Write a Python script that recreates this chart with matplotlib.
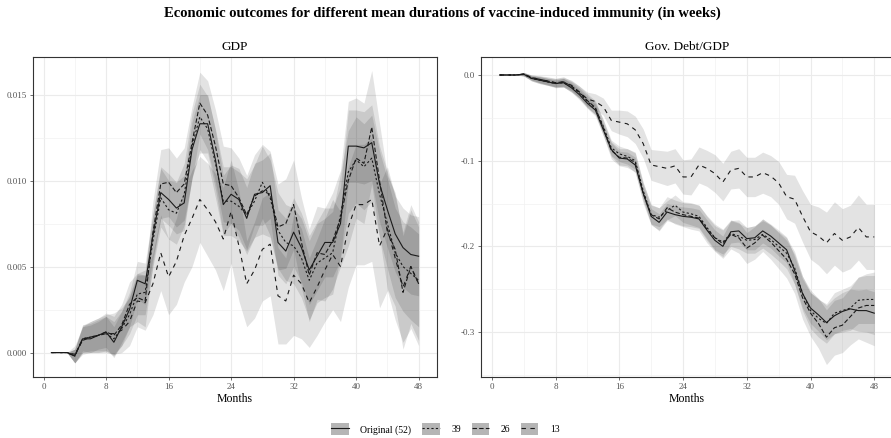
import matplotlib
matplotlib.use("Agg")
import matplotlib.pyplot as plt
from matplotlib.lines import Line2D
from matplotlib.patches import Patch
from matplotlib.ticker import MultipleLocator

plt.rcParams["font.family"] = ["Liberation Serif", "DejaVu Serif"]

months = list(range(1, 49))
labels = ["Original (52)", "39", "26", "13"]

# GDP: mean paths and bands for each mean immunity duration
gdp_orig = [0, 0, 0, -0.0002, 0.0008, 0.0008, 0.0010, 0.0012, 0.0006, 0.0015,
            0.0025, 0.0042, 0.0040, 0.0068, 0.0093, 0.0089, 0.0084, 0.0087, 0.0118, 0.0133,
            0.0133, 0.0112, 0.0086, 0.0092, 0.0089, 0.0078, 0.0092, 0.0093, 0.0097, 0.0064,
            0.0059, 0.0070, 0.0061, 0.0048, 0.0056, 0.0064, 0.0064, 0.0075, 0.0120, 0.0120,
            0.0119, 0.0122, 0.0098, 0.0083, 0.0069, 0.0061, 0.0057, 0.0056]
gdp_orig_lo = [0, 0, 0, -0.0006, 0.0001, 0.0000, 0.0002, 0.0003, -0.0003, 0.0006,
               0.0015, 0.0031, 0.0028, 0.0055, 0.0078, 0.0074, 0.0069, 0.0071, 0.0102, 0.0116,
               0.0116, 0.0095, 0.0069, 0.0075, 0.0071, 0.0060, 0.0074, 0.0074, 0.0078, 0.0045,
               0.0040, 0.0050, 0.0041, 0.0028, 0.0036, 0.0044, 0.0044, 0.0054, 0.0099, 0.0099,
               0.0098, 0.0100, 0.0076, 0.0061, 0.0047, 0.0038, 0.0034, 0.0033]
gdp_orig_hi = [0, 0, 0, 0.0002, 0.0015, 0.0016, 0.0018, 0.0021, 0.0015, 0.0024,
               0.0035, 0.0053, 0.0052, 0.0081, 0.0108, 0.0104, 0.0099, 0.0103, 0.0134, 0.0150,
               0.0150, 0.0129, 0.0103, 0.0109, 0.0107, 0.0096, 0.0110, 0.0112, 0.0116, 0.0083,
               0.0078, 0.0090, 0.0081, 0.0068, 0.0076, 0.0084, 0.0084, 0.0096, 0.0141, 0.0141,
               0.0140, 0.0144, 0.0120, 0.0105, 0.0091, 0.0084, 0.0080, 0.0079]

gdp_39 = [0, 0, 0, -0.0002, 0.0008, 0.0009, 0.0010, 0.0011, 0.0008, 0.0014,
          0.0022, 0.0034, 0.0035, 0.0065, 0.0090, 0.0083, 0.0081, 0.0092, 0.0120, 0.0137,
          0.0130, 0.0110, 0.0088, 0.0088, 0.0085, 0.0080, 0.0088, 0.0099, 0.0090, 0.0071,
          0.0064, 0.0062, 0.0055, 0.0042, 0.0052, 0.0055, 0.0058, 0.0080, 0.0105, 0.0112,
          0.0108, 0.0113, 0.0092, 0.0075, 0.0058, 0.0050, 0.0046, 0.0042]
gdp_39_lo = [0, 0, 0, -0.0006, 0.0000, 0.0001, 0.0001, 0.0001, -0.0002, 0.0004,
             0.0011, 0.0022, 0.0022, 0.0050, 0.0073, 0.0066, 0.0063, 0.0074, 0.0101, 0.0118,
             0.0111, 0.0090, 0.0068, 0.0068, 0.0065, 0.0059, 0.0067, 0.0078, 0.0068, 0.0049,
             0.0042, 0.0040, 0.0032, 0.0019, 0.0029, 0.0032, 0.0034, 0.0056, 0.0081, 0.0087,
             0.0083, 0.0088, 0.0067, 0.0049, 0.0032, 0.0024, 0.0019, 0.0015]
gdp_39_hi = [0, 0, 0, 0.0002, 0.0016, 0.0017, 0.0019, 0.0021, 0.0018, 0.0024,
             0.0033, 0.0046, 0.0048, 0.0080, 0.0107, 0.0100, 0.0099, 0.0110, 0.0139, 0.0156,
             0.0149, 0.0130, 0.0108, 0.0108, 0.0105, 0.0101, 0.0109, 0.0120, 0.0112, 0.0093,
             0.0086, 0.0084, 0.0078, 0.0065, 0.0075, 0.0078, 0.0082, 0.0104, 0.0129, 0.0137,
             0.0133, 0.0138, 0.0117, 0.0101, 0.0084, 0.0076, 0.0073, 0.0069]

gdp_26 = [0, 0, 0, -0.0001, 0.0007, 0.0009, 0.0010, 0.0012, 0.0010, 0.0016,
          0.0028, 0.0032, 0.0030, 0.0070, 0.0098, 0.0099, 0.0093, 0.0098, 0.0122, 0.0145,
          0.0138, 0.0120, 0.0098, 0.0097, 0.0090, 0.0080, 0.0091, 0.0094, 0.0092, 0.0073,
          0.0075, 0.0086, 0.0064, 0.0045, 0.0058, 0.0057, 0.0065, 0.0078, 0.0100, 0.0113,
          0.0110, 0.0131, 0.0100, 0.0070, 0.0060, 0.0035, 0.0050, 0.0040]
gdp_26_lo = [0, 0, 0, -0.0006, -0.0001, 0.0000, 0.0000, 0.0001, -0.0001, 0.0004,
             0.0015, 0.0018, 0.0015, 0.0052, 0.0078, 0.0079, 0.0073, 0.0077, 0.0101, 0.0127,
             0.0118, 0.0099, 0.0076, 0.0075, 0.0067, 0.0057, 0.0067, 0.0069, 0.0067, 0.0048,
             0.0049, 0.0060, 0.0038, 0.0018, 0.0031, 0.0030, 0.0037, 0.0050, 0.0062, 0.0078,
             0.0075, 0.0098, 0.0067, 0.0037, 0.0027, 0.0002, 0.0017, 0.0007]
gdp_26_hi = [0, 0, 0, 0.0004, 0.0015, 0.0018, 0.0020, 0.0023, 0.0021, 0.0028,
             0.0041, 0.0046, 0.0045, 0.0088, 0.0118, 0.0119, 0.0113, 0.0119, 0.0143, 0.0163,
             0.0158, 0.0141, 0.0120, 0.0119, 0.0113, 0.0103, 0.0115, 0.0121, 0.0117, 0.0098,
             0.0101, 0.0112, 0.0090, 0.0072, 0.0085, 0.0084, 0.0093, 0.0106, 0.0146, 0.0148,
             0.0145, 0.0164, 0.0133, 0.0103, 0.0093, 0.0068, 0.0083, 0.0073]

gdp_13 = [0, 0, 0, -0.0002, 0.0008, 0.0009, 0.0010, 0.0011, 0.0011, 0.0013,
          0.0018, 0.0030, 0.0029, 0.0040, 0.0058, 0.0044, 0.0053, 0.0068, 0.0078, 0.0089,
          0.0083, 0.0076, 0.0066, 0.0082, 0.0062, 0.0040, 0.0048, 0.0060, 0.0063, 0.0033,
          0.0030, 0.0045, 0.0040, 0.0029, 0.0038, 0.0048, 0.0057, 0.0050, 0.0073, 0.0086,
          0.0086, 0.0089, 0.0062, 0.0072, 0.0055, 0.0038, 0.0050, 0.0040]
gdp_13_lo = [0, 0, 0, -0.0006, 0.0000, 0.0000, 0.0000, 0.0000, -0.0001, 0.0000,
             0.0004, 0.0015, 0.0013, 0.0022, 0.0036, 0.0022, 0.0028, 0.0041, 0.0050, 0.0064,
             0.0056, 0.0048, 0.0036, 0.0052, 0.0030, 0.0015, 0.0020, 0.0030, 0.0033, 0.0005,
             0.0005, 0.0010, 0.0008, 0.0003, 0.0010, 0.0018, 0.0025, 0.0018, 0.0038, 0.0051,
             0.0051, 0.0053, 0.0026, 0.0036, 0.0019, 0.0006, 0.0014, 0.0004]
gdp_13_hi = [0, 0, 0, 0.0002, 0.0016, 0.0018, 0.0020, 0.0022, 0.0023, 0.0026,
             0.0032, 0.0045, 0.0045, 0.0058, 0.0080, 0.0066, 0.0078, 0.0095, 0.0106, 0.0114,
             0.0110, 0.0104, 0.0096, 0.0112, 0.0094, 0.0065, 0.0076, 0.0090, 0.0093, 0.0061,
             0.0055, 0.0080, 0.0072, 0.0055, 0.0066, 0.0078, 0.0089, 0.0082, 0.0108, 0.0121,
             0.0121, 0.0125, 0.0098, 0.0108, 0.0091, 0.0070, 0.0086, 0.0076]

# Gov. debt / GDP
debt_orig = [0, 0, 0, 0.001, -0.004, -0.006, -0.008, -0.010, -0.009, -0.015,
             -0.023, -0.033, -0.041, -0.064, -0.087, -0.097, -0.098, -0.105, -0.138, -0.165,
             -0.172, -0.160, -0.163, -0.165, -0.166, -0.168, -0.181, -0.193, -0.200, -0.183,
             -0.182, -0.191, -0.190, -0.182, -0.188, -0.196, -0.204, -0.228, -0.255, -0.272,
             -0.280, -0.289, -0.281, -0.276, -0.273, -0.275, -0.275, -0.278]
debt_orig_lo = [0, 0, 0, -0.001, -0.007, -0.010, -0.012, -0.014, -0.014, -0.020,
                -0.029, -0.039, -0.048, -0.071, -0.095, -0.105, -0.106, -0.114, -0.147, -0.174,
                -0.182, -0.170, -0.173, -0.176, -0.177, -0.179, -0.193, -0.205, -0.212, -0.196,
                -0.195, -0.204, -0.204, -0.196, -0.202, -0.211, -0.219, -0.244, -0.272, -0.290,
                -0.299, -0.309, -0.302, -0.298, -0.296, -0.299, -0.300, -0.303]
debt_orig_hi = [0, 0, 0, 0.003, -0.001, -0.002, -0.004, -0.006, -0.004, -0.010,
                -0.017, -0.027, -0.034, -0.057, -0.079, -0.089, -0.090, -0.096, -0.129, -0.156,
                -0.162, -0.150, -0.153, -0.154, -0.155, -0.157, -0.169, -0.181, -0.188, -0.170,
                -0.169, -0.178, -0.176, -0.168, -0.174, -0.181, -0.189, -0.212, -0.238, -0.254,
                -0.261, -0.269, -0.260, -0.254, -0.250, -0.251, -0.250, -0.253]

debt_39 = [0, 0, 0, 0.001, -0.004, -0.006, -0.008, -0.010, -0.009, -0.014,
           -0.021, -0.031, -0.039, -0.060, -0.085, -0.092, -0.095, -0.100, -0.135, -0.163,
           -0.166, -0.158, -0.152, -0.160, -0.162, -0.165, -0.178, -0.190, -0.195, -0.185,
           -0.188, -0.193, -0.192, -0.186, -0.192, -0.200, -0.208, -0.225, -0.255, -0.275,
           -0.284, -0.290, -0.278, -0.275, -0.272, -0.263, -0.262, -0.262]
debt_39_lo = [0, 0, 0, -0.001, -0.007, -0.010, -0.012, -0.015, -0.014, -0.020,
              -0.027, -0.038, -0.046, -0.068, -0.094, -0.101, -0.104, -0.110, -0.145, -0.174,
              -0.177, -0.169, -0.164, -0.172, -0.175, -0.178, -0.191, -0.204, -0.209, -0.200,
              -0.203, -0.208, -0.208, -0.202, -0.209, -0.217, -0.226, -0.244, -0.275, -0.296,
              -0.306, -0.313, -0.302, -0.300, -0.298, -0.290, -0.290, -0.290]
debt_39_hi = [0, 0, 0, 0.003, -0.001, -0.002, -0.004, -0.005, -0.004, -0.008,
              -0.015, -0.024, -0.032, -0.052, -0.076, -0.083, -0.086, -0.090, -0.125, -0.152,
              -0.155, -0.147, -0.140, -0.148, -0.149, -0.152, -0.165, -0.176, -0.181, -0.170,
              -0.173, -0.178, -0.176, -0.170, -0.175, -0.183, -0.190, -0.206, -0.235, -0.254,
              -0.262, -0.267, -0.254, -0.250, -0.246, -0.236, -0.234, -0.234]

debt_26 = [0, 0, 0, 0.001, -0.003, -0.005, -0.007, -0.009, -0.008, -0.013,
           -0.020, -0.030, -0.038, -0.062, -0.088, -0.096, -0.097, -0.102, -0.138, -0.163,
           -0.168, -0.155, -0.160, -0.163, -0.165, -0.167, -0.180, -0.190, -0.197, -0.186,
           -0.190, -0.202, -0.196, -0.187, -0.195, -0.205, -0.215, -0.232, -0.260, -0.278,
           -0.290, -0.306, -0.295, -0.292, -0.282, -0.272, -0.269, -0.269]
debt_26_lo = [0, 0, 0, -0.001, -0.006, -0.009, -0.012, -0.014, -0.014, -0.019,
              -0.027, -0.038, -0.046, -0.071, -0.098, -0.106, -0.108, -0.113, -0.150, -0.175,
              -0.181, -0.168, -0.174, -0.177, -0.180, -0.182, -0.196, -0.206, -0.214, -0.203,
              -0.208, -0.220, -0.215, -0.206, -0.215, -0.226, -0.237, -0.255, -0.285, -0.305,
              -0.319, -0.338, -0.327, -0.324, -0.315, -0.308, -0.312, -0.316]
debt_26_hi = [0, 0, 0, 0.003, 0.000, -0.001, -0.002, -0.004, -0.002, -0.007,
              -0.013, -0.022, -0.030, -0.053, -0.078, -0.086, -0.086, -0.091, -0.126, -0.151,
              -0.155, -0.142, -0.146, -0.149, -0.150, -0.152, -0.164, -0.174, -0.180, -0.169,
              -0.172, -0.184, -0.177, -0.168, -0.175, -0.184, -0.193, -0.209, -0.235, -0.251,
              -0.261, -0.274, -0.263, -0.260, -0.249, -0.236, -0.232, -0.230]

debt_13 = [0, 0, 0, 0.001, -0.003, -0.005, -0.007, -0.009, -0.008, -0.012,
           -0.020, -0.028, -0.031, -0.037, -0.053, -0.055, -0.057, -0.064, -0.080, -0.105,
           -0.107, -0.109, -0.106, -0.119, -0.119, -0.105, -0.109, -0.115, -0.125, -0.111,
           -0.109, -0.119, -0.119, -0.114, -0.118, -0.126, -0.142, -0.145, -0.165, -0.183,
           -0.188, -0.196, -0.185, -0.193, -0.189, -0.178, -0.189, -0.189]
debt_13_lo = [0, 0, 0, -0.001, -0.006, -0.009, -0.011, -0.014, -0.013, -0.018,
              -0.027, -0.036, -0.040, -0.047, -0.065, -0.069, -0.072, -0.080, -0.097, -0.123,
              -0.126, -0.129, -0.126, -0.139, -0.140, -0.126, -0.130, -0.137, -0.147, -0.133,
              -0.132, -0.142, -0.142, -0.138, -0.142, -0.151, -0.168, -0.173, -0.195, -0.215,
              -0.222, -0.232, -0.222, -0.230, -0.226, -0.216, -0.227, -0.227]
debt_13_hi = [0, 0, 0, 0.003, 0.000, -0.001, -0.003, -0.004, -0.003, -0.006,
              -0.013, -0.020, -0.022, -0.027, -0.041, -0.041, -0.042, -0.048, -0.063, -0.087,
              -0.088, -0.089, -0.086, -0.099, -0.098, -0.084, -0.088, -0.093, -0.103, -0.089,
              -0.086, -0.096, -0.096, -0.090, -0.094, -0.101, -0.116, -0.117, -0.135, -0.151,
              -0.154, -0.160, -0.148, -0.156, -0.152, -0.140, -0.151, -0.151]

gdp_series = [(gdp_orig, gdp_orig_lo, gdp_orig_hi), (gdp_39, gdp_39_lo, gdp_39_hi),
              (gdp_26, gdp_26_lo, gdp_26_hi), (gdp_13, gdp_13_lo, gdp_13_hi)]
debt_series = [(debt_orig, debt_orig_lo, debt_orig_hi), (debt_39, debt_39_lo, debt_39_hi),
               (debt_26, debt_26_lo, debt_26_hi), (debt_13, debt_13_lo, debt_13_hi)]

line_styles = ["-", (0, (2, 2)), (0, (4, 2)), (0, (4, 4))]
line_col = "#1a1a1a"
band_alpha = 0.11
lw = 0.8

fig = plt.figure(figsize=(8.91, 4.38), dpi=100)
ax1 = fig.add_axes([33 / 891, 1 - 377 / 438, 404 / 891, 320 / 438])
ax2 = fig.add_axes([481 / 891, 1 - 377 / 438, 412 / 891, 320 / 438])


def style_axis(ax, title):
    ax.set_xlim(-1.35, 50.35)
    ax.xaxis.set_major_locator(MultipleLocator(8))
    ax.xaxis.set_minor_locator(MultipleLocator(4))
    ax.grid(which="major", color="#ebebeb", lw=0.8, zorder=0)
    ax.grid(which="minor", color="#f2f2f2", lw=0.5, zorder=0)
    ax.set_axisbelow(True)
    for sp in ax.spines.values():
        sp.set_color("#333333")
        sp.set_linewidth(0.8)
    ax.tick_params(which="major", length=2.5, width=0.5, color="#333333",
                   labelsize=6.5, labelcolor="#555555", pad=2)
    ax.tick_params(which="minor", length=0)
    ax.set_title(title, fontsize=9.5, pad=5)
    ax.set_xlabel("Months", fontsize=8.5, labelpad=1)


for ax, series in [(ax1, gdp_series), (ax2, debt_series)]:
    for (mean, lo, hi), ls in zip(series, line_styles):
        ax.fill_between(months, lo, hi, color="black", alpha=band_alpha, lw=0, zorder=1)
    for (mean, lo, hi), ls in zip(series, line_styles):
        ax.plot(months, mean, color=line_col, lw=lw, linestyle=ls, zorder=2)

style_axis(ax1, "GDP")
ax1.set_ylim(-0.00142, 0.01718)
ax1.set_yticks([0, 0.005, 0.010, 0.015])
ax1.set_yticklabels(["0.000", "0.005", "0.010", "0.015"])
ax1.yaxis.set_minor_locator(MultipleLocator(0.0025))

style_axis(ax2, "Gov. Debt/GDP")
ax2.set_ylim(-0.3525, 0.021)
ax2.set_yticks([0, -0.1, -0.2, -0.3])
ax2.set_yticklabels(["0.0", "-0.1", "-0.2", "-0.3"])
ax2.yaxis.set_minor_locator(MultipleLocator(0.05))

fig.suptitle("Economic outcomes for different mean durations of vaccine-induced immunity (in weeks)",
             fontsize=10.5, fontweight="bold", x=0.497, y=0.985)

handles = [(Patch(facecolor="#b5b5b5", edgecolor="none"),
            Line2D([], [], color=line_col, lw=lw, linestyle=ls)) for ls in line_styles]
fig.legend(handles, labels, loc="lower center", bbox_to_anchor=(0.5, -0.014), ncol=4,
           frameon=False, fontsize=7, handlelength=1.8, handleheight=1.6,
           handletextpad=1.2, columnspacing=1.1)

fig.savefig("out.png", dpi=100)
